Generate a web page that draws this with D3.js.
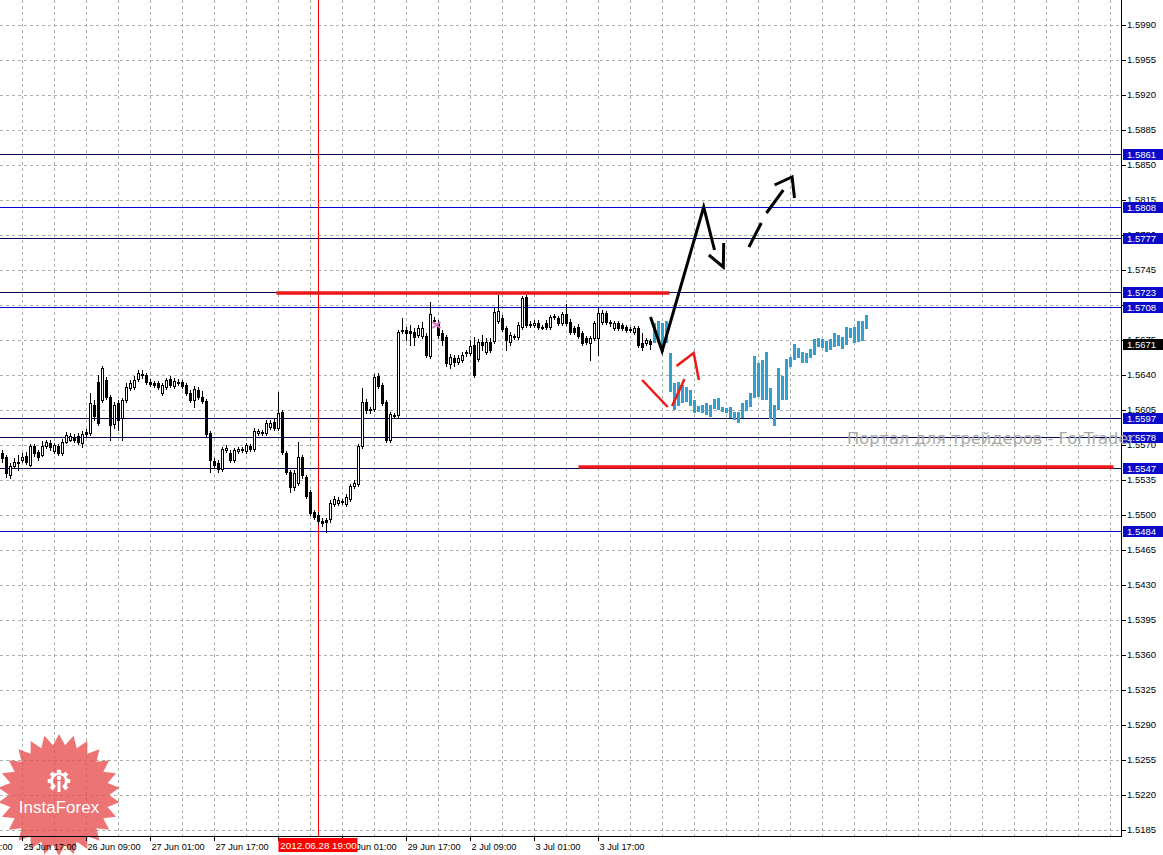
<!DOCTYPE html>
<html>
<head>
<meta charset="utf-8">
<script src="https://cdn.jsdelivr.net/npm/d3@7"></script>
<style>
  html, body { margin: 0; padding: 0; background: #fff; overflow: hidden; }
  svg { display: block; font-family: "Liberation Sans", Arial, sans-serif; }
</style>
</head>
<body>
<div id="chart"></div>
<script>
const width = 1163,
      height = 855,
      plotRight = 1121,
      plotBottom = 836;

// price axis
const priceTicks = [1.5990, 1.5955, 1.5920, 1.5885, 1.5850, 1.5815, 1.5780, 1.5745, 1.5710, 1.5675,
  1.5640, 1.5605, 1.5570, 1.5535, 1.5500, 1.5465, 1.5430, 1.5395, 1.5360, 1.5325, 1.5290, 1.5255,
  1.5220, 1.5185];

// time axis (bar index of each label)
const timeLabelBars = [-11, 5, 21, 37, 53, 69, 85, 101, 117, 133, 149];
const timeLabels = ['25 Jun 01:00', '25 Jun 17:00', '26 Jun 09:00', '27 Jun 01:00', '27 Jun 17:00',
  '28 Jun 09:00', '29 Jun 01:00', '29 Jun 17:00', '2 Jul 09:00', '3 Jul 01:00', '3 Jul 17:00'];

// horizontal levels
const levels = [1.5861, 1.5808, 1.5777, 1.5723, 1.5708, 1.5597, 1.5578, 1.5547, 1.5484];
const brightLevels = [1.5808, 1.5708, 1.5484];
const lastPrice = 1.5671;

// marked bar
const markerBar = 79,
      markerLabel = '2012.06.28 19:00';

// H1 candles
const opens = [1.5562,1.5558,1.5540,1.5549,1.5553,1.5555,1.5559,1.5550,1.5569,1.5563,
  1.5560,1.5569,1.5572,1.5564,1.5569,1.5562,1.5573,1.5575,1.5578,1.5579,
  1.5572,1.5583,1.5582,1.5610,1.5633,1.5615,1.5635,1.5618,1.5591,1.5612,
  1.5597,1.5615,1.5627,1.5628,1.5636,1.5641,1.5640,1.5633,1.5632,1.5632,
  1.5622,1.5628,1.5636,1.5629,1.5633,1.5633,1.5630,1.5622,1.5615,1.5625,
  1.5618,1.5614,1.5582,1.5554,1.5552,1.5546,1.5565,1.5562,1.5555,1.5564,
  1.5566,1.5564,1.5569,1.5566,1.5582,1.5583,1.5582,1.5588,1.5593,1.5587,
  1.5603,1.5562,1.5543,1.5528,1.5532,1.5558,1.5538,1.5523,1.5503,1.5500,
  1.5494,1.5495,1.5496,1.5511,1.5512,1.5514,1.5511,1.5516,1.5529,1.5531,
  1.5569,1.5613,1.5605,1.5606,1.5639,1.5630,1.5613,1.5575,1.5600,1.5600,
  1.5684,1.5685,1.5684,1.5683,1.5680,1.5679,1.5679,1.5659,1.5695,1.5692,
  1.5682,1.5678,1.5651,1.5657,1.5653,1.5655,1.5662,1.5662,1.5670,1.5656,
  1.5673,1.5663,1.5673,1.5674,1.5694,1.5697,1.5687,1.5673,1.5678,1.5678,
  1.5688,1.5718,1.5691,1.5690,1.5692,1.5688,1.5692,1.5688,1.5698,1.5697,
  1.5692,1.5701,1.5693,1.5687,1.5688,1.5682,1.5677,1.5672,1.5677,1.5677,
  1.5693,1.5702,1.5693,1.5687,1.5692,1.5690,1.5688,1.5686,1.5683,1.5687,
  1.5672,1.5672,1.5674];
const highs = [1.5565,1.5560,1.5552,1.5557,1.5560,1.5562,1.5563,1.5571,1.5571,1.5565,
  1.5574,1.5575,1.5575,1.5572,1.5571,1.5576,1.5583,1.5582,1.5581,1.5582,
  1.5584,1.5586,1.5622,1.5615,1.5640,1.5649,1.5638,1.5620,1.5613,1.5615,
  1.5617,1.5632,1.5635,1.5639,1.5645,1.5645,1.5642,1.5636,1.5634,1.5634,
  1.5632,1.5637,1.5639,1.5637,1.5636,1.5635,1.5632,1.5625,1.5629,1.5628,
  1.5624,1.5616,1.5584,1.5557,1.5555,1.5568,1.5570,1.5565,1.5567,1.5568,
  1.5568,1.5572,1.5571,1.5587,1.5586,1.5585,1.5595,1.5595,1.5596,1.5623,
  1.5605,1.5564,1.5545,1.5545,1.5573,1.5560,1.5540,1.5525,1.5505,1.5503,
  1.5497,1.5497,1.5515,1.5519,1.5518,1.5516,1.5521,1.5531,1.5535,1.5571,
  1.5627,1.5616,1.5608,1.5641,1.5642,1.5632,1.5615,1.5603,1.5602,1.5685,
  1.5697,1.5688,1.5690,1.5687,1.5690,1.5693,1.5682,1.5713,1.5698,1.5695,
  1.5685,1.5680,1.5661,1.5660,1.5660,1.5663,1.5665,1.5675,1.5678,1.5676,
  1.5680,1.5677,1.5677,1.5707,1.5720,1.5700,1.5689,1.5683,1.5681,1.5693,
  1.5719,1.5720,1.5694,1.5695,1.5695,1.5690,1.5695,1.5700,1.5701,1.5699,
  1.5703,1.5711,1.5696,1.5689,1.5691,1.5684,1.5679,1.5679,1.5694,1.5707,
  1.5705,1.5704,1.5695,1.5694,1.5694,1.5692,1.5690,1.5688,1.5689,1.5689,
  1.5682,1.5677,1.5676];
const lows = [1.5553,1.5538,1.5537,1.5547,1.5545,1.5553,1.5551,1.5549,1.5559,1.5555,
  1.5559,1.5567,1.5565,1.5562,1.5560,1.5560,1.5572,1.5574,1.5573,1.5571,
  1.5568,1.5579,1.5580,1.5595,1.5590,1.5613,1.5616,1.5575,1.5587,1.5585,
  1.5575,1.5613,1.5625,1.5626,1.5634,1.5637,1.5631,1.5629,1.5628,1.5626,
  1.5620,1.5626,1.5628,1.5627,1.5630,1.5627,1.5620,1.5613,1.5608,1.5616,
  1.5612,1.5579,1.5543,1.5547,1.5543,1.5544,1.5563,1.5553,1.5553,1.5562,
  1.5563,1.5562,1.5564,1.5564,1.5580,1.5580,1.5580,1.5586,1.5585,1.5585,
  1.5561,1.5541,1.5523,1.5525,1.5530,1.5537,1.5517,1.5500,1.5496,1.5491,
  1.5489,1.5483,1.5493,1.5509,1.5510,1.5511,1.5509,1.5514,1.5527,1.5529,
  1.5567,1.5602,1.5602,1.5604,1.5627,1.5610,1.5573,1.5573,1.5597,1.5597,
  1.5682,1.5675,1.5670,1.5670,1.5678,1.5677,1.5658,1.5657,1.5692,1.5677,
  1.5670,1.5649,1.5647,1.5649,1.5651,1.5653,1.5659,1.5660,1.5638,1.5654,
  1.5665,1.5661,1.5663,1.5672,1.5692,1.5684,1.5665,1.5670,1.5676,1.5676,
  1.5686,1.5688,1.5688,1.5688,1.5686,1.5686,1.5686,1.5686,1.5696,1.5690,
  1.5690,1.5690,1.5681,1.5681,1.5677,1.5670,1.5671,1.5655,1.5675,1.5660,
  1.5691,1.5691,1.5689,1.5685,1.5685,1.5685,1.5683,1.5683,1.5681,1.5668,
  1.5665,1.5670,1.5666];
const closes = [1.5557,1.5542,1.5549,1.5553,1.5552,1.5558,1.5553,1.5569,1.5562,1.5558,
  1.5569,1.5573,1.5568,1.5570,1.5562,1.5573,1.5580,1.5579,1.5575,1.5573,
  1.5581,1.5581,1.5612,1.5599,1.5592,1.5647,1.5618,1.5590,1.5610,1.5595,
  1.5615,1.5628,1.5632,1.5635,1.5642,1.5640,1.5633,1.5631,1.5630,1.5628,
  1.5630,1.5635,1.5630,1.5634,1.5632,1.5629,1.5622,1.5615,1.5626,1.5618,
  1.5614,1.5581,1.5555,1.5550,1.5546,1.5566,1.5567,1.5555,1.5565,1.5566,
  1.5565,1.5570,1.5566,1.5584,1.5584,1.5582,1.5592,1.5592,1.5587,1.5602,
  1.5563,1.5543,1.5528,1.5542,1.5558,1.5540,1.5519,1.5502,1.5498,1.5494,
  1.5492,1.5493,1.5512,1.5516,1.5515,1.5513,1.5518,1.5529,1.5532,1.5569,
  1.5613,1.5605,1.5606,1.5638,1.5629,1.5612,1.5575,1.5601,1.5599,1.5683,
  1.5685,1.5682,1.5682,1.5678,1.5687,1.5687,1.5660,1.5701,1.5694,1.5680,
  1.5675,1.5652,1.5658,1.5653,1.5657,1.5660,1.5663,1.5669,1.5640,1.5673,
  1.5670,1.5673,1.5665,1.5703,1.5704,1.5686,1.5675,1.5680,1.5679,1.5690,
  1.5717,1.5690,1.5690,1.5692,1.5688,1.5687,1.5688,1.5698,1.5699,1.5692,
  1.5701,1.5692,1.5683,1.5683,1.5679,1.5672,1.5673,1.5677,1.5692,1.5702,
  1.5702,1.5693,1.5692,1.5692,1.5687,1.5687,1.5685,1.5685,1.5687,1.5670,
  1.5668,1.5675,1.5671];

// projected bars (high / low), starting right after the last candle
const projFirstBar = 163;
const projHighs = [1.5692,1.5694,1.5692,1.5694,1.5662,1.5632,1.5633,1.5630,1.5628,1.5625,
  1.5615,1.5609,1.5610,1.5612,1.5610,1.5616,1.5617,1.5608,1.5607,1.5608,
  1.5603,1.5603,1.5612,1.5615,1.5622,1.5659,1.5652,1.5655,1.5663,1.5627,
  1.5610,1.5647,1.5639,1.5656,1.5658,1.5671,1.5667,1.5663,1.5662,1.5666,
  1.5676,1.5677,1.5676,1.5674,1.5676,1.5682,1.5680,1.5678,1.5688,1.5687,
  1.5688,1.5694,1.5694,1.5700];
const projLows = [1.5672,1.5672,1.5663,1.5672,1.5623,1.5605,1.5609,1.5612,1.5613,1.5609,
  1.5602,1.5603,1.5602,1.5600,1.5598,1.5606,1.5605,1.5603,1.5602,1.5597,
  1.5595,1.5592,1.5597,1.5604,1.5608,1.5617,1.5618,1.5615,1.5615,1.5596,
  1.5589,1.5605,1.5615,1.5615,1.5648,1.5655,1.5657,1.5652,1.5652,1.5657,
  1.5660,1.5668,1.5667,1.5663,1.5665,1.5668,1.5669,1.5666,1.5670,1.5677,
  1.5672,1.5673,1.5674,1.5686];

// drawn annotations, as [bar, price]
const redLevelLines = [
  { from: 68.5, to: 166.75, price: 1.5722 },
  { from: 144, to: 277.75, price: 1.5548 }
];
const trendLine = [[162, 1.5698], [164.9, 1.5664], [175.3, 1.5808], [178, 1.5765]];
const trendHead = [[176.6, 1.5760], [180.2, 1.5748], [180.3, 1.5772]];
const dashPieces = [
  [[186.6, 1.5768], [189.7, 1.5792]],
  [[191, 1.5802], [195.2, 1.5825]]
];
const dashHead = [[193, 1.5830], [197.4, 1.5838], [198, 1.5817]];
const redStrokes = [
  [[159.9, 1.5635], [166.3, 1.5608]],
  [[167.4, 1.5609], [170.5, 1.5636]],
  [[168.5, 1.5649], [172.8, 1.5662], [174.1, 1.5635]]
];
const pinkMark = [108.5, 1.5690];

const watermark = 'Портал для трейдеров - ForTrader';

const candles = opens.map((o, i) => ({ i: i, o: o, h: highs[i], l: lows[i], c: closes[i] }));
const projBars = projHighs.map((h, k) => ({ i: projFirstBar + k, h: h, l: projLows[k] }));

const xScale = d3.scaleLinear().domain([0, 1]).range([2.5, 6.5]),
      yScale = d3.scaleLinear().domain([1.5990, 1.5185]).range([25, 830]);

const yPix = p => Math.round(yScale(p)) + 0.5;

const svg = d3.select('#chart').append('svg')
    .attr('width', width)
    .attr('height', height);

svg.append('rect').attr('width', width).attr('height', height).attr('fill', '#fff');

// grid
const grid = svg.append('g').attr('stroke', '#a8b4a8').attr('stroke-dasharray', '3,3');

grid.selectAll('.hgrid')
  .data(priceTicks)
  .enter().append('line')
    .attr('x1', 0).attr('x2', plotRight)
    .attr('y1', d => yPix(d)).attr('y2', d => yPix(d));

grid.selectAll('.vgrid')
  .data(d3.range(5, 280, 8).filter(b => xScale(b) < plotRight))
  .enter().append('line')
    .attr('x1', d => xScale(d)).attr('x2', d => xScale(d))
    .attr('y1', 0).attr('y2', plotBottom);

// logo badge (behind the axis text)
const logo = svg.append('g').attr('transform', 'translate(59,795)');
const nPoints = 26;
const starPts = d3.range(nPoints * 2).map(k => {
  const a = Math.PI * k / nPoints, r = k % 2 ? 50 : 61;
  return [Math.sin(a) * r, -Math.cos(a) * r];
});
logo.append('path')
  .attr('d', d3.line()(starPts) + 'Z')
  .attr('fill', '#e54545')
  .attr('fill-opacity', 0.75);

// gear emblem, open at the bottom
const emblem = logo.append('g').attr('transform', 'translate(0,-14)').attr('fill', '#fff');
emblem.append('path')
  .attr('d', d3.arc()({ innerRadius: 6, outerRadius: 8.8, startAngle: -Math.PI + 0.55, endAngle: Math.PI - 0.55 }));
[-135, -90, -45, 0, 45, 90, 135].forEach(a => {
  const r = a * Math.PI / 180;
  emblem.append('path')
    .attr('d', d3.arc()({ innerRadius: 8, outerRadius: 11.3, startAngle: r - 0.2, endAngle: r + 0.2 }));
});
emblem.append('circle').attr('cy', -3).attr('r', 2.2);
emblem.append('rect').attr('x', -1.5).attr('y', 0).attr('width', 3).attr('height', 11);

logo.append('text')
  .attr('x', 0).attr('y', 18)
  .attr('text-anchor', 'middle')
  .attr('fill', '#fff')
  .attr('font-size', 17)
  .text('InstaForex');

// levels
svg.selectAll('.level')
  .data(levels)
  .enter().append('line')
    .attr('x1', 0).attr('x2', plotRight)
    .attr('y1', d => yPix(d)).attr('y2', d => yPix(d))
    .attr('stroke', d => brightLevels.includes(d) ? '#0000cc' : '#06065a');

// marked bar
svg.append('line')
  .attr('x1', xScale(markerBar)).attr('x2', xScale(markerBar))
  .attr('y1', 0).attr('y2', plotBottom)
  .attr('stroke', '#ff0000');

// red level annotations
svg.selectAll('.redLevel')
  .data(redLevelLines)
  .enter().append('line')
    .attr('x1', d => xScale(d.from)).attr('x2', d => xScale(d.to))
    .attr('y1', d => yScale(d.price)).attr('y2', d => yScale(d.price))
    .attr('stroke', '#f01818')
    .attr('stroke-width', 3.5);

// candles
const candleG = svg.append('g');

candleG.selectAll('.wick')
  .data(candles)
  .enter().append('line')
    .attr('x1', d => xScale(d.i)).attr('x2', d => xScale(d.i))
    .attr('y1', d => Math.round(yScale(d.h))).attr('y2', d => Math.round(yScale(d.l)) + 1)
    .attr('stroke', '#000');

candleG.selectAll('.body')
  .data(candles)
  .enter().append('rect')
    .attr('x', d => xScale(d.i) - 1)
    .attr('y', d => yPix(Math.max(d.o, d.c)))
    .attr('width', 2)
    .attr('height', d => Math.max(0, Math.round(yScale(Math.min(d.o, d.c))) - Math.round(yScale(Math.max(d.o, d.c)))))
    .attr('fill', d => d.c >= d.o ? '#fff' : '#000')
    .attr('stroke', '#000');

// projected bars
svg.selectAll('.proj')
  .data(projBars)
  .enter().append('rect')
    .attr('x', d => xScale(d.i) - 1.5)
    .attr('y', d => Math.round(yScale(d.h)))
    .attr('width', 3)
    .attr('height', d => Math.round(yScale(d.l)) - Math.round(yScale(d.h)))
    .attr('fill', '#33a0d0');

// pink marker
svg.append('path')
  .attr('transform', `translate(${xScale(pinkMark[0])},${yScale(pinkMark[1])})`)
  .attr('d', 'M-4,-3L4,3M-4,3L4,-3')
  .attr('stroke', '#e070c8')
  .attr('stroke-width', 2);

// arrows
const line = d3.line().x(d => xScale(d[0])).y(d => yScale(d[1]));

const blackArrows = svg.append('g')
  .attr('fill', 'none')
  .attr('stroke', '#000')
  .attr('stroke-width', 3);

blackArrows.append('path').attr('d', line(trendLine));
blackArrows.append('path').attr('d', line(trendHead));
dashPieces.forEach(p => blackArrows.append('path').attr('d', line(p)));
blackArrows.append('path').attr('d', line(dashHead));

svg.append('g')
  .attr('fill', 'none')
  .attr('stroke', '#f01818')
  .attr('stroke-width', 2.5)
  .selectAll('path')
  .data(redStrokes)
  .enter().append('path')
    .attr('d', d => line(d));

// axes frame
svg.append('line')
  .attr('x1', plotRight + 0.5).attr('x2', plotRight + 0.5)
  .attr('y1', 0).attr('y2', plotBottom + 1)
  .attr('stroke', '#000');
svg.append('line')
  .attr('x1', 0).attr('x2', plotRight + 1)
  .attr('y1', plotBottom + 0.5).attr('y2', plotBottom + 0.5)
  .attr('stroke', '#000');

// price ticks and labels
const priceAxis = svg.append('g').attr('font-size', 9.5).attr('fill', '#000');

priceAxis.selectAll('.ptick')
  .data(priceTicks)
  .enter().append('line')
    .attr('x1', plotRight + 1).attr('x2', plotRight + 5)
    .attr('y1', d => yPix(d)).attr('y2', d => yPix(d))
    .attr('stroke', '#000');

priceAxis.selectAll('.plabel')
  .data(priceTicks)
  .enter().append('text')
    .attr('x', plotRight + 6)
    .attr('y', d => yScale(d))
    .attr('dy', '0.35em')
    .text(d => d.toFixed(4));

// time ticks and labels
const timeAxis = svg.append('g').attr('font-size', 9.2).attr('fill', '#000');

timeAxis.selectAll('.ttick')
  .data(timeLabelBars)
  .enter().append('line')
    .attr('x1', d => xScale(d)).attr('x2', d => xScale(d))
    .attr('y1', plotBottom + 1).attr('y2', plotBottom + 5)
    .attr('stroke', '#000');

timeAxis.selectAll('.tlabel')
  .data(timeLabelBars)
  .enter().append('text')
    .attr('x', d => xScale(d) + 1)
    .attr('y', 850)
    .text((d, k) => timeLabels[k]);

// marked bar label
const mk = svg.append('g').attr('transform', `translate(${xScale(markerBar)},0)`);
mk.append('rect')
  .attr('x', -40).attr('y', 838)
  .attr('width', 79).attr('height', 14)
  .attr('fill', '#ff0000');
mk.append('text')
  .attr('x', 0).attr('y', 849)
  .attr('text-anchor', 'middle')
  .attr('font-size', 9.8)
  .attr('fill', '#fff')
  .text(markerLabel);

// level price boxes
const boxes = svg.selectAll('.lbox')
  .data(levels.map(p => ({ p: p, last: false })).concat([{ p: lastPrice, last: true }]))
  .enter().append('g')
    .attr('transform', d => `translate(${plotRight + 2},${Math.round(yScale(d.p))})`);

boxes.append('rect')
  .attr('x', 0).attr('y', -5)
  .attr('width', width - plotRight - 2).attr('height', 11)
  .attr('fill', d => d.last ? '#000' : '#0a0ac8');

boxes.append('text')
  .attr('x', 4).attr('y', 0.5)
  .attr('dy', '0.35em')
  .attr('font-size', 9.5)
  .attr('fill', '#fff')
  .text(d => d.p.toFixed(4));

// watermark
svg.append('text')
  .attr('x', 847).attr('y', 444)
  .attr('font-family', '"DejaVu Sans", sans-serif')
  .attr('font-size', 15)
  .attr('textLength', 288)
  .attr('lengthAdjust', 'spacingAndGlyphs')
  .attr('fill', '#a8a8a8')
  .text(watermark);
</script>
</body>
</html>
